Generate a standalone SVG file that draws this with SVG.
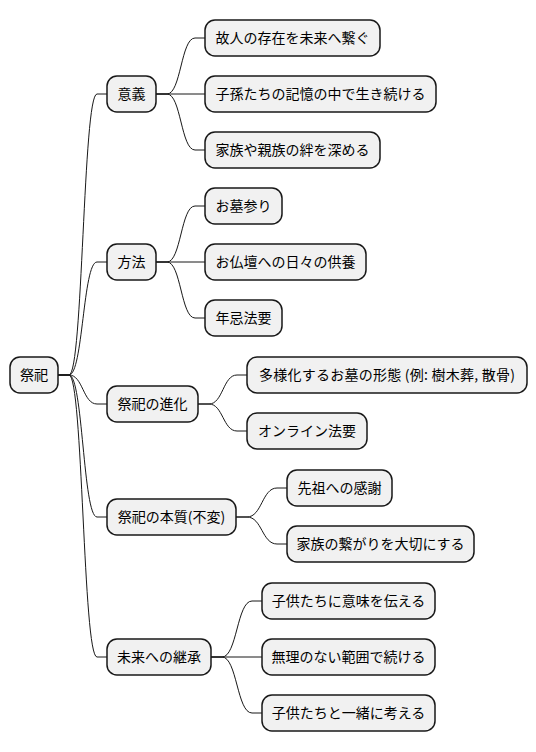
<svg xmlns="http://www.w3.org/2000/svg" width="536" height="752" viewBox="0 0 536 752">
<style>
.n rect{fill:#F1F1F1;stroke:#181818;stroke-width:1.5}
.n text{font-family:"Noto Sans CJK JP","Noto Sans",sans-serif;font-size:14px;fill:#000;text-anchor:middle}
.c path{fill:none;stroke:#181818;stroke-width:1}
</style>
<rect width="536" height="752" fill="#FFFFFF"/>
<g class="c" id="connectors">
<path d="M58,375 L69,375 C83,375 83,94 97,94 L107,94"/>
<path d="M58,375 L69,375 C83,375 83,262 97,262 L107,262"/>
<path d="M58,375 L69,375 C83,375 83,404 97,404 L107,404"/>
<path d="M58,375 L69,375 C83,375 83,517 97,517 L107,517"/>
<path d="M58,375 L69,375 C83,375 83,657 97,657 L107,657"/>
<path d="M156,94 L167,94 C181,94 181,38 195,38 L205,38"/>
<path d="M156,94 L205,94"/>
<path d="M156,94 L167,94 C181,94 181,150 195,150 L205,150"/>
<path d="M156,262 L167,262 C181,262 181,206 195,206 L205,206"/>
<path d="M156,262 L205,262"/>
<path d="M156,262 L167,262 C181,262 181,318 195,318 L205,318"/>
<path d="M198,404 L209,404 C223,404 223,375 237,375 L247,375"/>
<path d="M198,404 L209,404 C223,404 223,431 237,431 L247,431"/>
<path d="M236,517 L247,517 C262,517 262,488 277,488 L287,488"/>
<path d="M236,517 L247,517 C262,517 262,544 277,544 L287,544"/>
<path d="M211,657 L222,657 C237,657 237,601 252,601 L262,601"/>
<path d="M211,657 L262,657"/>
<path d="M211,657 L222,657 C237,657 237,713 252,713 L262,713"/>
</g>
<g class="n" id="root"><rect x="10" y="357" width="48" height="36" rx="10"/><text x="34" y="380">祭祀</text></g>
<g class="n" id="igi"><rect x="107" y="76" width="49" height="36" rx="10"/><text x="131.5" y="99">意義</text></g>
<g class="n" id="igi1"><rect x="205" y="20" width="175" height="36" rx="10"/><text x="292.5" y="43">故人の存在を未来へ繋ぐ</text></g>
<g class="n" id="igi2"><rect x="205" y="76" width="231" height="36" rx="10"/><text x="320.5" y="99">子孫たちの記憶の中で生き続ける</text></g>
<g class="n" id="igi3"><rect x="205" y="132" width="175" height="36" rx="10"/><text x="292.5" y="155">家族や親族の絆を深める</text></g>
<g class="n" id="hoho"><rect x="107" y="244" width="49" height="36" rx="10"/><text x="131.5" y="267">方法</text></g>
<g class="n" id="hoho1"><rect x="205" y="188" width="77" height="36" rx="10"/><text x="243.5" y="211">お墓参り</text></g>
<g class="n" id="hoho2"><rect x="205" y="244" width="161" height="36" rx="10"/><text x="285.5" y="267">お仏壇への日々の供養</text></g>
<g class="n" id="hoho3"><rect x="205" y="300" width="77" height="36" rx="10"/><text x="243.5" y="323">年忌法要</text></g>
<g class="n" id="shinka"><rect x="107" y="386" width="91" height="36" rx="10"/><text x="152.5" y="409">祭祀の進化</text></g>
<g class="n" id="shinka1"><rect x="247" y="357" width="280" height="36" rx="10"/><text x="387" y="380" textLength="256" lengthAdjust="spacing">多様化するお墓の形態 (例: 樹木葬, 散骨)</text></g>
<g class="n" id="shinka2"><rect x="247" y="413" width="120" height="36" rx="10"/><text x="307" y="436">オンライン法要</text></g>
<g class="n" id="honshitsu"><rect x="107" y="499" width="129" height="36" rx="10"/><text x="171.5" y="522">祭祀の本質(不変)</text></g>
<g class="n" id="honshitsu1"><rect x="287" y="470" width="105" height="36" rx="10"/><text x="339.5" y="493">先祖への感謝</text></g>
<g class="n" id="honshitsu2"><rect x="287" y="526" width="187" height="36" rx="10"/><text x="380.5" y="549">家族の繋がりを大切にする</text></g>
<g class="n" id="keisho"><rect x="107" y="639" width="104" height="36" rx="10"/><text x="159" y="662">未来への継承</text></g>
<g class="n" id="keisho1"><rect x="262" y="583" width="173" height="36" rx="10"/><text x="348.5" y="606">子供たちに意味を伝える</text></g>
<g class="n" id="keisho2"><rect x="262" y="639" width="173" height="36" rx="10"/><text x="348.5" y="662">無理のない範囲で続ける</text></g>
<g class="n" id="keisho3"><rect x="262" y="695" width="173" height="36" rx="10"/><text x="348.5" y="718">子供たちと一緒に考える</text></g>
</svg>
